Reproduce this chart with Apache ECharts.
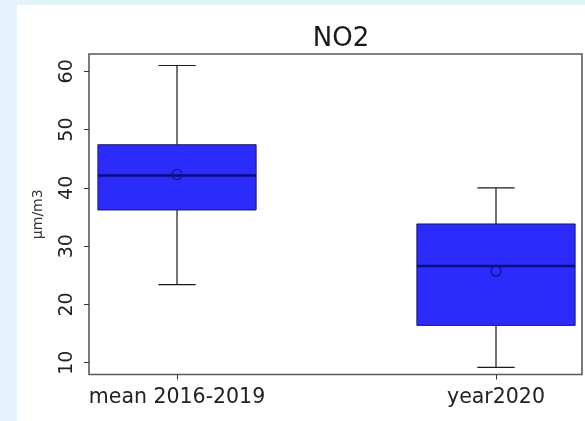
<!DOCTYPE html>
<html>
<head>
<meta charset="utf-8">
<script src="https://cdn.jsdelivr.net/npm/echarts@6/dist/echarts.min.js"></script>
<style>
  html, body { margin: 0; padding: 0; background: #ffffff; }
  #chart { width: 585px; height: 421px; }
</style>
</head>
<body>
<div id="chart"></div>
<script>
// NO2 concentration summary per period (µm/m3)
const categories = ['mean 2016-2019', 'year2020'];
const whiskerLow  = [23.4, 9.2];
const quartile1   = [36.2, 16.4];
const medians     = [42.1, 26.6];
const quartile3   = [47.4, 33.8];
const whiskerHigh = [61.0, 40.0];
const means       = [42.3, 25.7];
const yTicks = [10, 20, 30, 40, 50, 60];

// one row per box: [position, low, q1, median, q3, high, mean]
const rows = categories.map((c, i) => [
  i + 1, whiskerLow[i], quartile1[i], medians[i], quartile3[i], whiskerHigh[i], means[i]
]);

const FONT = 'DejaVu Sans';
const chart = echarts.init(document.getElementById('chart'));

function renderBox(params, api) {
  const x = api.value(0);
  const pLow = api.coord([x, api.value(1)]);
  const pQ1 = api.coord([x, api.value(2)]);
  const pMed = api.coord([x, api.value(3)]);
  const pQ3 = api.coord([x, api.value(4)]);
  const pHigh = api.coord([x, api.value(5)]);
  const pMean = api.coord([x, api.value(6)]);
  const boxW = api.size([0.496, 0])[0];
  const capW = api.size([0.117, 0])[0];
  const cx = pMed[0];
  const lineStyle = { stroke: '#1a1a1a', lineWidth: 1.2 };
  return {
    type: 'group',
    children: [
      { type: 'line', shape: { x1: cx, y1: pHigh[1], x2: cx, y2: pQ3[1] }, style: lineStyle },
      { type: 'line', shape: { x1: cx, y1: pQ1[1], x2: cx, y2: pLow[1] }, style: lineStyle },
      { type: 'line', shape: { x1: cx - capW / 2, y1: pHigh[1], x2: cx + capW / 2, y2: pHigh[1] }, style: lineStyle },
      { type: 'line', shape: { x1: cx - capW / 2, y1: pLow[1], x2: cx + capW / 2, y2: pLow[1] }, style: lineStyle },
      {
        type: 'rect',
        shape: { x: cx - boxW / 2, y: pQ3[1], width: boxW, height: pQ1[1] - pQ3[1] },
        style: { fill: '#2b2bfb', stroke: '#1a1a6e', lineWidth: 1 }
      },
      {
        type: 'line',
        shape: { x1: cx - boxW / 2, y1: pMed[1], x2: cx + boxW / 2, y2: pMed[1] },
        style: { stroke: '#0c0c80', lineWidth: 2.5 }
      },
      {
        type: 'circle',
        shape: { cx: pMean[0], cy: pMean[1], r: 5 },
        style: { fill: 'none', stroke: '#14148a', lineWidth: 1.3 }
      }
    ]
  };
}

chart.setOption({
  backgroundColor: '#ffffff',
  animation: false,
  graphic: {
    elements: [
      { type: 'rect', left: 0, top: 0, shape: { width: 17, height: 421 }, style: { fill: '#e4f2fb' }, silent: true },
      { type: 'rect', left: 0, top: 0, shape: { width: 585, height: 5 }, style: { fill: '#e4f2fb' }, silent: true }
    ]
  },
  title: {
    text: 'NO2',
    left: 336,
    top: 21,
    textAlign: 'center',
    textStyle: { fontFamily: FONT, fontSize: 26, fontWeight: 'normal', color: '#1a1a1a' }
  },
  grid: {
    left: 89, right: 3, top: 54, bottom: 46.5,
    show: true, borderColor: '#5a5a5a', borderWidth: 1.6, backgroundColor: 'transparent'
  },
  xAxis: {
    type: 'value',
    min: 0.7241,
    max: 2.2696,
    splitLine: { show: false },
    axisLine: { show: false },
    axisTick: { show: true, customValues: [1, 2], length: 5, lineStyle: { color: '#333' } },
    axisLabel: {
      customValues: [1, 2],
      formatter: v => categories[Math.round(v) - 1],
      fontFamily: FONT, fontSize: 20.5, color: '#222', margin: 13
    }
  },
  yAxis: {
    type: 'value',
    name: 'µm/m3',
    nameLocation: 'middle',
    nameGap: 44,
    nameRotate: 90,
    nameTextStyle: { fontFamily: FONT, fontSize: 14, color: '#333' },
    min: 7.97,
    max: 62.97,
    splitLine: { show: false },
    axisLine: { show: false },
    axisTick: { show: true, customValues: yTicks, length: 5, lineStyle: { color: '#333' } },
    axisLabel: {
      customValues: yTicks,
      rotate: 90,
      fontFamily: FONT, fontSize: 19, color: '#222', margin: 12
    }
  },
  series: [{
    type: 'custom',
    renderItem: renderBox,
    encode: { x: 0, y: [1, 2, 3, 4, 5, 6] },
    data: rows,
    z: 5
  }]
});
</script>
</body>
</html>
